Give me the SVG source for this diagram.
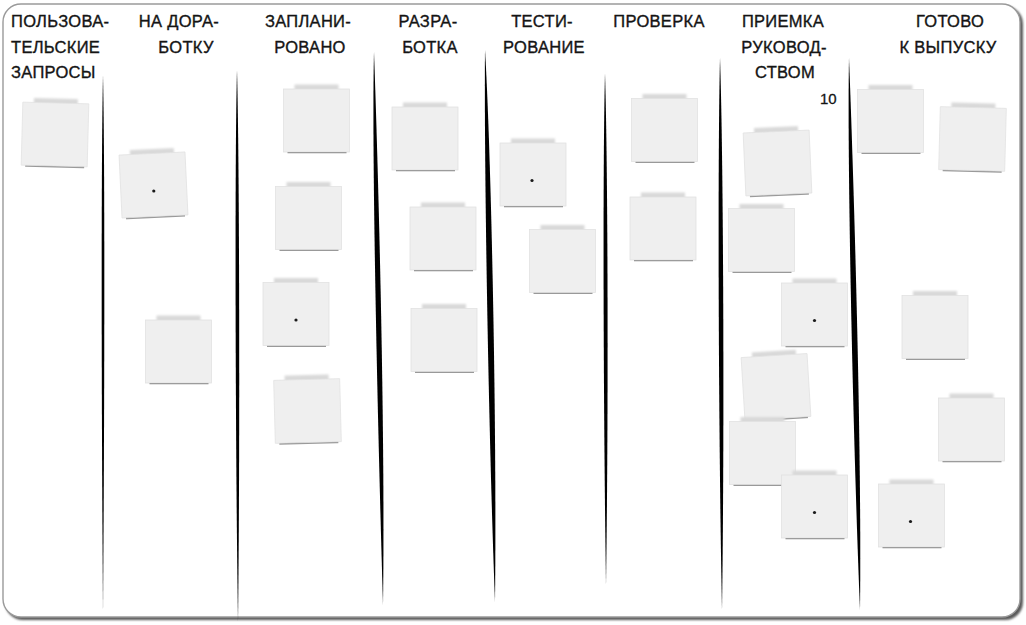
<svg xmlns="http://www.w3.org/2000/svg" xmlns:xlink="http://www.w3.org/1999/xlink" width="1026" height="625" viewBox="0 0 1026 625">
<style>
  .hd { font-family: "Liberation Sans", "DejaVu Sans", Arial, sans-serif; font-size: 16.5px; fill: #141414; stroke: #141414; stroke-width: 0.35px; text-anchor: middle; letter-spacing: 0.3px; }
  .hl { text-anchor: start; }
  .num { font-family: "Liberation Sans", "DejaVu Sans", Arial, sans-serif; font-size: 15px; fill: #141414; stroke: #141414; stroke-width: 0.3px; }
  .body { fill: #efefef; stroke: #e2e2e2; stroke-width: 0.8; }
  .tab { fill: #d9d9d9; }
  .shd { fill: #6e6e6e; }
  .dot { fill: #1a1a1a; }
  .brush { fill: #000; }
</style>
<defs>
  <filter id="blur1" x="-20%" y="-100%" width="140%" height="300%"><feGaussianBlur stdDeviation="1.3"/></filter>
  <filter id="blur05" x="-20%" y="-200%" width="140%" height="500%"><feGaussianBlur stdDeviation="0.6"/></filter>
  <filter id="bshadow" x="-5%" y="-5%" width="110%" height="110%"><feGaussianBlur stdDeviation="1.2"/></filter>
  <g id="note">
    <rect class="tab" x="-22" y="-36" width="44" height="7" filter="url(#blur1)"/>
    <rect class="shd" x="-29" y="30.5" width="59" height="2.2" filter="url(#blur05)"/>
    <rect class="body" x="-33" y="-31.5" width="66" height="63"/>
  </g>
</defs>

<g id="board">
  <rect x="5" y="6" width="1018" height="614" rx="18" fill="#5a5a5a" filter="url(#bshadow)"/>
  <rect x="3" y="4" width="1017" height="613" rx="18" fill="#ffffff" stroke="#9a9a9a" stroke-width="1.4"/>
</g>

<g id="dividers">
  <path class="brush" d="M103 75 C101 160 101.5 420 103 612 C104.5 420 105 160 103 75 Z"/>
  <path class="brush" d="M237 70 C234.5 160 235.5 460 238 622 C240 460 239.5 160 237 70 Z"/>
  <path class="brush" d="M374 52 C371.5 150 377.5 420 383 605 C385.5 420 377.5 150 374 52 Z"/>
  <path class="brush" d="M485 50 C484 150 488 420 495 602 C497 420 491 150 485 50 Z"/>
  <path class="brush" d="M605 73 C602.5 170 603.5 420 606 585 C608.5 420 608 170 605 73 Z"/>
  <path class="brush" d="M720 58 C717.5 160 718.5 440 722 610 C724.5 440 723.5 160 720 58 Z"/>
  <path class="brush" d="M849 58 C847 160 853 440 860 610 C862 440 853 160 849 58 Z"/>
</g>

<g id="headers">
  <text class="hd hl" x="11" y="27">ПОЛЬЗОВА-</text>
  <text class="hd hl" x="11" y="53">ТЕЛЬСКИЕ</text>
  <text class="hd hl" x="11" y="78">ЗАПРОСЫ</text>

  <text class="hd" x="179" y="27">НА ДОРА-</text>
  <text class="hd" x="186" y="53">БОТКУ</text>

  <text class="hd" x="308" y="27">ЗАПЛАНИ-</text>
  <text class="hd" x="310" y="53">РОВАНО</text>

  <text class="hd" x="428" y="27">РАЗРА-</text>
  <text class="hd" x="430" y="53">БОТКА</text>

  <text class="hd" x="542" y="27">ТЕСТИ-</text>
  <text class="hd" x="544" y="53">РОВАНИЕ</text>

  <text class="hd" x="659" y="27">ПРОВЕРКА</text>

  <text class="hd" x="783" y="27">ПРИЕМКА</text>
  <text class="hd" x="784" y="53">РУКОВОД-</text>
  <text class="hd" x="785" y="78">СТВОМ</text>
  <text class="num" x="820" y="104">10</text>

  <text class="hd" x="950" y="27">ГОТОВО</text>
  <text class="hd" x="948" y="53">К ВЫПУСКУ</text>
</g>

<g id="note-1" transform="translate(55,134.5) rotate(1.5)"><use xlink:href="#note"/></g>
<g id="note-2" transform="translate(153.5,185) rotate(-2.7)"><use xlink:href="#note"/><circle class="dot" cx="0" cy="6" r="1.6"/></g>
<g id="note-3" transform="translate(178.5,351.5)"><use xlink:href="#note"/></g>
<g id="note-4" transform="translate(316.5,120.5)"><use xlink:href="#note"/></g>
<g id="note-5" transform="translate(308.5,218)"><use xlink:href="#note"/></g>
<g id="note-6" transform="translate(296,314)"><use xlink:href="#note"/><circle class="dot" cx="0" cy="6" r="1.6"/></g>
<g id="note-7" transform="translate(307.5,411) rotate(-1.5)"><use xlink:href="#note"/></g>
<g id="note-8" transform="translate(425,138.5)"><use xlink:href="#note"/></g>
<g id="note-9" transform="translate(443,238.5)"><use xlink:href="#note"/></g>
<g id="note-10" transform="translate(444,340)"><use xlink:href="#note"/></g>
<g id="note-11" transform="translate(533,174.5)"><use xlink:href="#note"/><circle class="dot" cx="-1" cy="6" r="1.6"/></g>
<g id="note-12" transform="translate(562.5,261)"><use xlink:href="#note"/></g>
<g id="note-13" transform="translate(664.5,130)"><use xlink:href="#note"/></g>
<g id="note-14" transform="translate(663,228.5)"><use xlink:href="#note"/></g>
<g id="note-15" transform="translate(777.5,163) rotate(-2.5)"><use xlink:href="#note"/></g>
<g id="note-16" transform="translate(761.5,240)"><use xlink:href="#note"/></g>
<g id="note-17" transform="translate(814.5,314.5)"><use xlink:href="#note"/><circle class="dot" cx="0" cy="6" r="1.6"/></g>
<g id="note-18" transform="translate(776,387) rotate(-3.5)"><use xlink:href="#note"/></g>
<g id="note-19" transform="translate(762.5,453)"><use xlink:href="#note"/></g>
<g id="note-20" transform="translate(814.5,506.5)"><use xlink:href="#note"/><circle class="dot" cx="0" cy="6" r="1.6"/></g>
<g id="note-21" transform="translate(890.5,121)"><use xlink:href="#note"/></g>
<g id="note-22" transform="translate(972.5,139) rotate(1.5)"><use xlink:href="#note"/></g>
<g id="note-23" transform="translate(935,327)"><use xlink:href="#note"/></g>
<g id="note-24" transform="translate(971.5,429.5)"><use xlink:href="#note"/></g>
<g id="note-25" transform="translate(911.5,515.5)"><use xlink:href="#note"/><circle class="dot" cx="-1" cy="6" r="1.6"/></g>
</svg>
